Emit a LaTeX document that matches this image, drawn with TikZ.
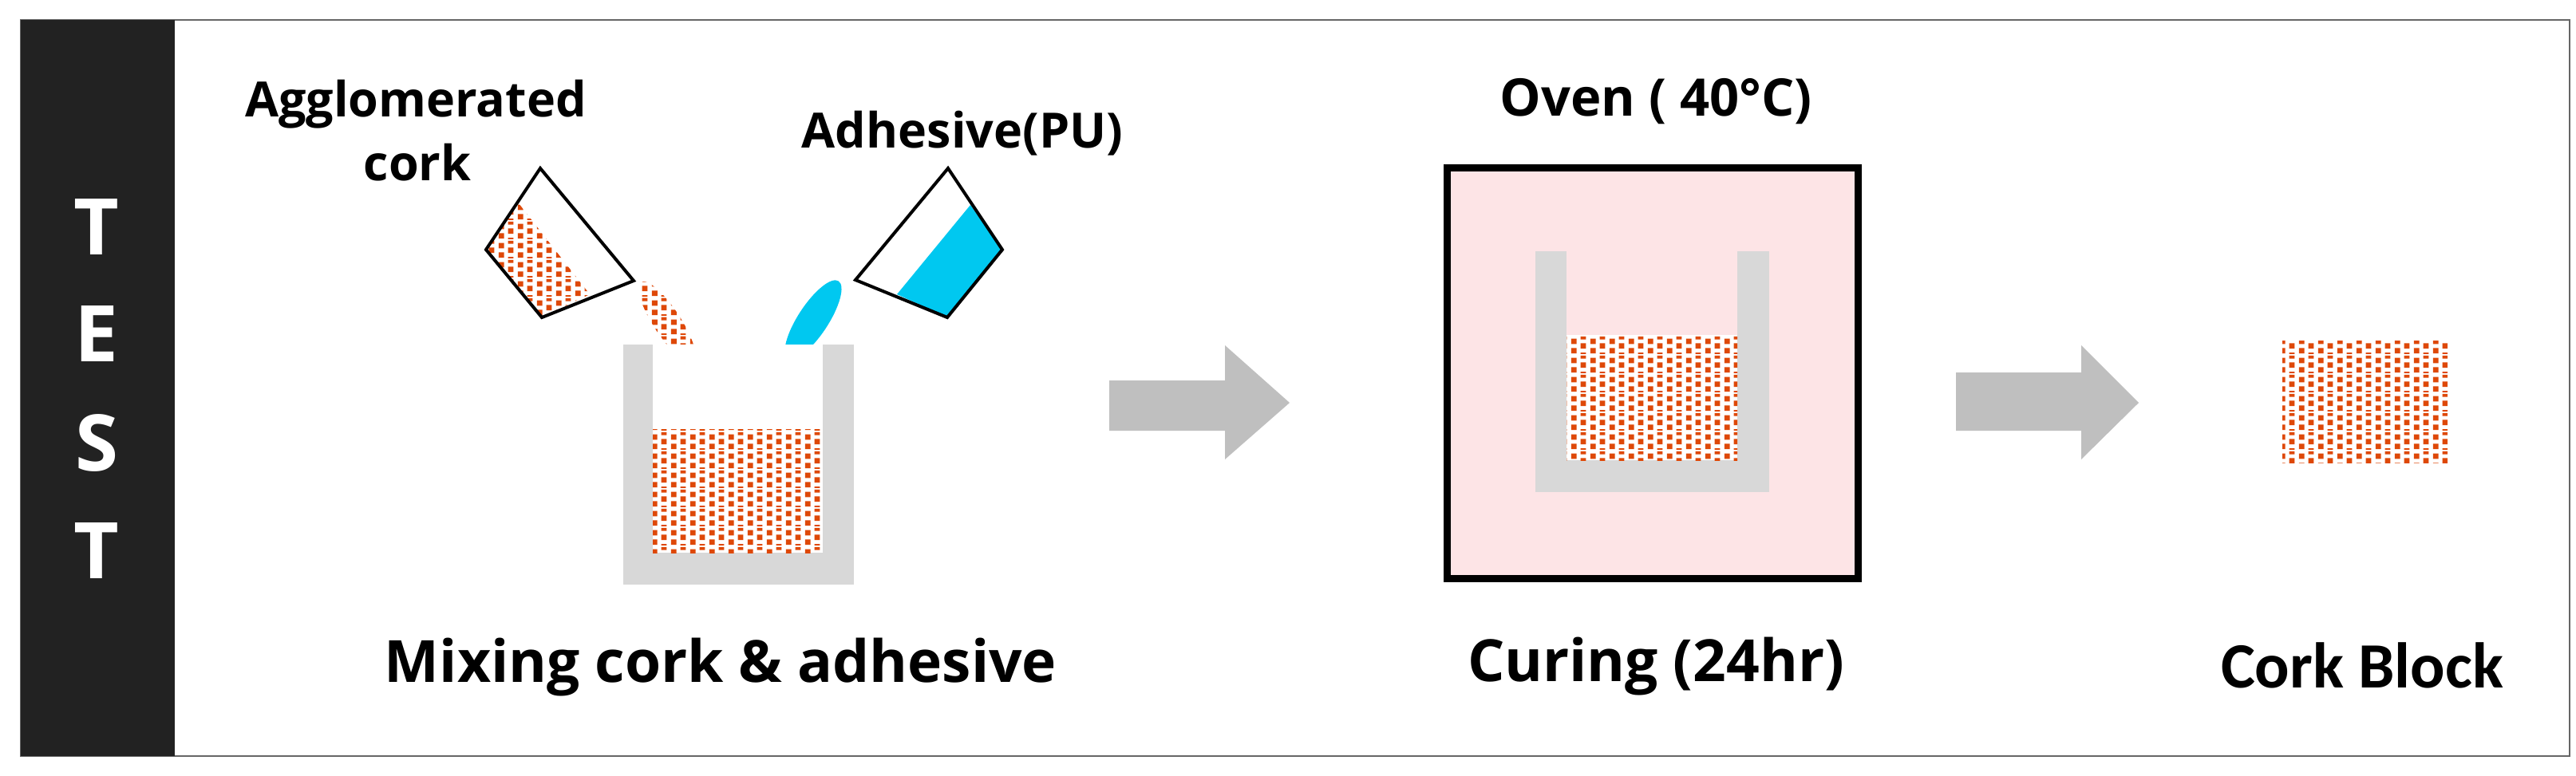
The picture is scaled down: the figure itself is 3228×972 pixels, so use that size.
\documentclass[tikz,border=0pt]{standalone}
\usepackage{fontspec}
\setmainfont{Open Sans}
\newfontfamily\carl{Carlito}
\usetikzlibrary{patterns}
\definecolor{corkc}{RGB}{222,72,8}
\definecolor{glue}{RGB}{0,200,240}
\definecolor{cupg}{RGB}{216,216,216}
\definecolor{arrg}{RGB}{191,191,191}
\definecolor{ovenp}{RGB}{253,228,230}
\definecolor{barc}{RGB}{34,34,34}
\pgfdeclarepatternformonly{corkpat}{\pgfpointorigin}{\pgfqpoint{24pt}{24pt}}{\pgfqpoint{24pt}{24pt}}{%
  \pgfpathrectangle{\pgfqpoint{1pt}{1pt}}{\pgfqpoint{7pt}{7pt}}%
  \pgfpathrectangle{\pgfqpoint{13pt}{7pt}}{\pgfqpoint{7pt}{7pt}}%
  \pgfpathrectangle{\pgfqpoint{1pt}{13pt}}{\pgfqpoint{7pt}{7pt}}%
  \pgfpathrectangle{\pgfqpoint{13pt}{19pt}}{\pgfqpoint{7pt}{4pt}}%
  \pgfpathrectangle{\pgfqpoint{13pt}{0pt}}{\pgfqpoint{7pt}{2pt}}%
  \pgfusepath{fill}}
\begin{document}
\begin{tikzpicture}[x=1pt,y=-1pt,
  cork/.style={pattern=corkpat,pattern color=corkc},
  lbl/.style={anchor=base,inner sep=0pt,font=\bfseries\fontsize{73}{80}\selectfont},
  sml/.style={anchor=base,inner sep=0pt,font=\bfseries\fontsize{61}{66}\selectfont},
  bigarrow/.style={fill=arrg},
  cupline/.style={draw=black,line width=4pt,line join=miter}]
\useasboundingbox (0,0) rectangle (3228,972);
\fill[white] (0,0) rectangle (3228,972);
% frame
\draw[draw=gray!80!black,line width=2.5pt] (26,25) rectangle (3220,948);
\fill[barc] (26,25) rectangle (219,948);
\foreach \l/\yy in {T/319,E/453,S/590,T/725}
  \node[anchor=base,inner sep=0pt,text=white,font=\bfseries\fontsize{98}{100}\selectfont] at (121,\yy) {\l};
% labels
\node[sml] (aggl) at (521,146) {Agglomerated};
\node[sml] (aggl2) at (523,226) {cork};
\node[sml] (adh) at (1206,185) {Adhesive(PU)};
\node[lbl] (mix) at (903,855) {Mixing cork \& adhesive};
\node[sml,font=\bfseries\fontsize{65}{70}\selectfont] (oven) at (2075,145) {Oven ( 40°C)};
\node[lbl] (cur) at (2075,854) {Curing (24hr)};
\node[anchor=base,inner sep=0pt,font=\carl\bfseries\fontsize{81}{86}\selectfont] (cb) at (2960,862) {Cork Block};
% left tilted cup with cork
\fill[cork] (609,313) -- (650,255) -- (739,369) -- (679,398) -- cycle;
\draw[cupline] (609,313) -- (677,211) -- (794,352) -- (679,398) -- cycle;
% right tilted cup with adhesive
\fill[glue] (1216,257) -- (1256,313) -- (1187,398) -- (1124,369) -- cycle;
\draw[cupline] (1072,351) -- (1188,211) -- (1256,313) -- (1187,398) -- cycle;
% falling pieces
\fill[cork] (836,404) ellipse[x radius=60,y radius=17,rotate=-56.8];
\fill[glue] (1019,401) ellipse[x radius=58,y radius=19,rotate=56.8];
\fill[cork] (901,499) circle[radius=20];
\fill[glue] (952,498) ellipse[x radius=19.5,y radius=21];
% beaker 1
\fill[cupg] (781,432) rectangle (1070,733);
\fill[white] (818,432) rectangle (1031,693);
\fill[cork] (818,538) rectangle (1031,693);
% arrows
\fill[bigarrow] (1390,477) -- (1535,477) -- (1535,433) -- (1616,505) -- (1535,576) -- (1535,540) -- (1390,540) -- cycle;
\fill[bigarrow] (2451,467) -- (2608,467) -- (2608,433) -- (2680,505) -- (2608,576) -- (2608,540) -- (2451,540) -- cycle;
% oven
\fill[ovenp] (1809,206) rectangle (2333,730);
\draw[line width=9pt] (1813.5,210.5) rectangle (2328.5,725.5);
\fill[cupg] (1924,315) rectangle (2217,617);
\fill[ovenp] (1963,315) rectangle (2177,577);
\fill[white] (1963,420) rectangle (2177,577);
\fill[cork] (1963,420) rectangle (2177,577);
% cork block
\fill[cork] (2860,427) rectangle (3067,580);
\end{tikzpicture}
\end{document}
